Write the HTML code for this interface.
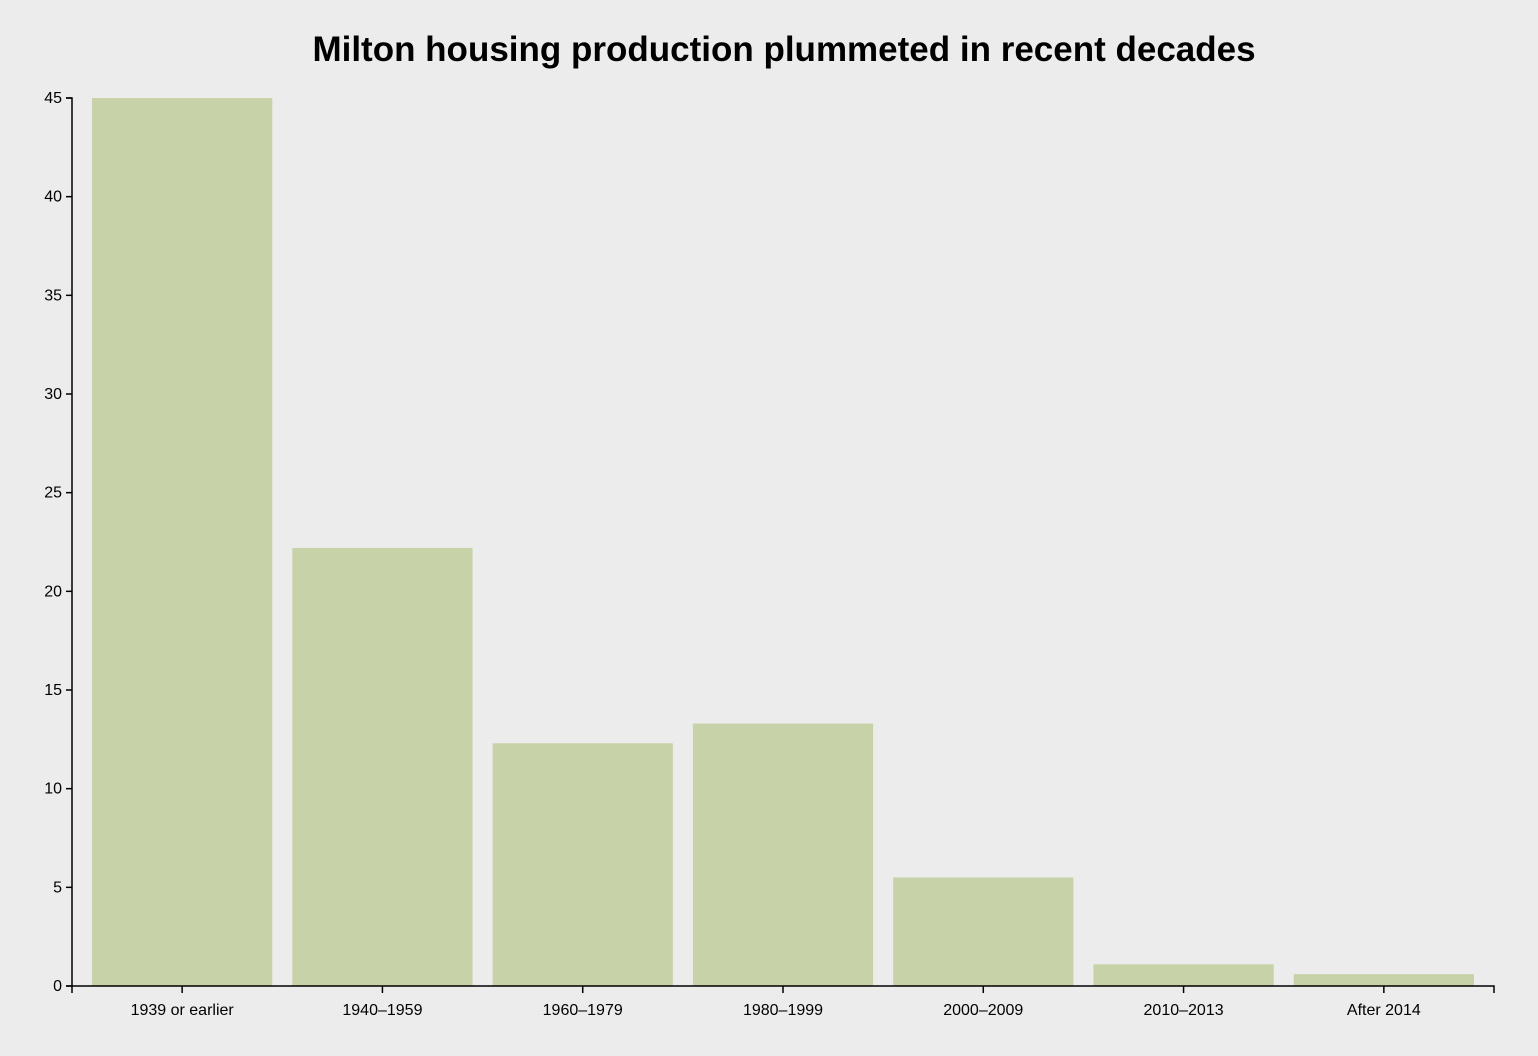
<!DOCTYPE html>
<html><head><meta charset="utf-8">
<style>
html,body{margin:0;padding:0;background:#ececec;}
svg{display:block;font-family:"Liberation Sans",sans-serif;}
</style></head>
<body>
<svg id="chart" width="1538" height="1056">
<rect width="1538" height="1056" fill="#ececec"/>
<text x="784" y="61" text-anchor="middle" font-size="35" font-weight="bold" fill="#000">Milton housing production plummeted in recent decades</text>
</svg>
<script>
const categories = ["1939 or earlier","1940–1959","1960–1979","1980–1999","2000–2009","2010–2013","After 2014"];
const values = [45, 22.2, 12.3, 13.3, 5.5, 1.1, 0.6];
const yTicks = [0,5,10,15,20,25,30,35,40,45];

const svg = document.getElementById('chart');
const NS = 'http://www.w3.org/2000/svg';
const x0 = 72, x1 = 1494, yBase = 986, yTop = 98, yMax = 45;
const pad = 0.1;
const step = (x1 - x0) / (categories.length - pad + 2 * pad);
const bw = step * (1 - pad);
const xPos = i => x0 + step * pad + i * step;
const yPos = v => yBase - (v / yMax) * (yBase - yTop);

function mk(tag, attrs) {
  const e = document.createElementNS(NS, tag);
  for (const k in attrs) e.setAttribute(k, attrs[k]);
  svg.appendChild(e);
  return e;
}

values.forEach((v, i) => {
  const r = mk('rect', {x: xPos(i), y: yPos(v), width: bw, height: yBase - yPos(v), fill: '#c7d2a8'});
  
  
});

const ya = mk('path', {d: `M${x0-6},${yTop}H${x0}V${yBase}H${x0-6}`, stroke: '#000', fill: 'none', 'stroke-width': 1.5});


yTicks.forEach(t => {
  const y = yPos(t);
  const l = mk('line', {x1: x0-6, x2: x0, y1: y, y2: y, stroke: '#000', 'stroke-width': 1.5});
  
  
  const tx = mk('text', {x: x0-10, y: y+5, 'text-anchor': 'end', 'font-size': 16, fill: '#000'});
  tx.textContent = t;
  
  
});

const xa = mk('path', {d: `M${x0},${yBase+7}V${yBase}H${x1}V${yBase+7}`, stroke: '#000', fill: 'none', 'stroke-width': 1.5});


categories.forEach((c, i) => {
  const cx = xPos(i) + bw / 2;
  const l = mk('line', {x1: cx, x2: cx, y1: yBase, y2: yBase+7, stroke: '#000', 'stroke-width': 1.5});
  
  
  const tx = mk('text', {x: cx, y: yBase+29, 'text-anchor': 'middle', 'font-size': 16, fill: '#000'});
  tx.textContent = c;
  
  
});
</script>
</body></html>
